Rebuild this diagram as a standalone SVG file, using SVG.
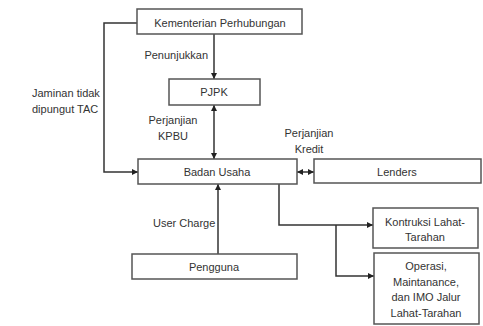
<svg xmlns="http://www.w3.org/2000/svg" width="483" height="326" viewBox="0 0 483 326">
<defs>
<marker id="ah" viewBox="0 0 10 10" refX="10" refY="5" markerWidth="6" markerHeight="6" markerUnits="userSpaceOnUse" orient="auto-start-reverse">
<path d="M0,0 L10,5 L0,10 z" fill="#222"/>
</marker>
</defs>
<style>
.box{fill:#fff;stroke:#555;stroke-width:1.5}
.t{font-family:"Liberation Sans",Arial,sans-serif;font-size:11px;fill:#333;text-anchor:middle}
.l{font-family:"Liberation Sans",Arial,sans-serif;font-size:11px;fill:#333}
.c{fill:none;stroke:#333;stroke-width:1.5}
</style>
<rect width="483" height="326" fill="#fff"/>
<g id="connectors">
<path class="c" d="M214,34 V79" marker-end="url(#ah)"/>
<path class="c" d="M214,105 V159" marker-start="url(#ah)" marker-end="url(#ah)"/>
<path class="c" d="M137,23 H104 V172 H138" marker-end="url(#ah)"/>
<path class="c" d="M297,172 H314" marker-start="url(#ah)" marker-end="url(#ah)"/>
<path class="c" d="M218,254 V184" marker-end="url(#ah)"/>
<path class="c" d="M279,184 V225 H373" marker-end="url(#ah)"/>
<path class="c" d="M336,225 V276 H374" marker-end="url(#ah)"/>
<text class="l" x="208" y="59" text-anchor="end">Penunjukkan</text>
<text class="l" x="32" y="97">Jaminan tidak</text>
<text class="l" x="32" y="113">dipungut TAC</text>
<text class="t" x="173" y="124">Perjanjian</text>
<text class="t" x="173" y="140">KPBU</text>
<text class="t" x="309" y="137">Perjanjian</text>
<text class="t" x="309" y="153">Kredit</text>
<text class="l" x="153" y="227">User Charge</text>
</g>
<g id="kementerian">
<rect class="box" x="137" y="9" width="165" height="25"/>
<text class="t" x="220" y="27">Kementerian Perhubungan</text>
</g>
<g id="pjpk">
<rect class="box" x="169" y="79" width="91" height="26"/>
<text class="t" x="214" y="96">PJPK</text>
</g>
<g id="badan-usaha">
<rect class="box" x="138" y="159" width="159" height="25"/>
<text class="t" x="217" y="176">Badan Usaha</text>
</g>
<g id="lenders">
<rect class="box" x="314" y="159" width="167" height="24"/>
<text class="t" x="397" y="176">Lenders</text>
</g>
<g id="pengguna">
<rect class="box" x="132" y="254" width="165" height="25"/>
<text class="t" x="214" y="271">Pengguna</text>
</g>
<g id="kontruksi">
<rect class="box" x="373" y="208" width="105" height="40"/>
<text class="t" x="425" y="226">Kontruksi Lahat-</text>
<text class="t" x="425" y="241">Tarahan</text>
</g>
<g id="operasi">
<rect class="box" x="374" y="253" width="105" height="71"/>
<text class="t" x="426" y="270">Operasi,</text>
<text class="t" x="426" y="286">Maintanance,</text>
<text class="t" x="426" y="301">dan IMO Jalur</text>
<text class="t" x="426" y="317">Lahat-Tarahan</text>
</g>
</svg>
